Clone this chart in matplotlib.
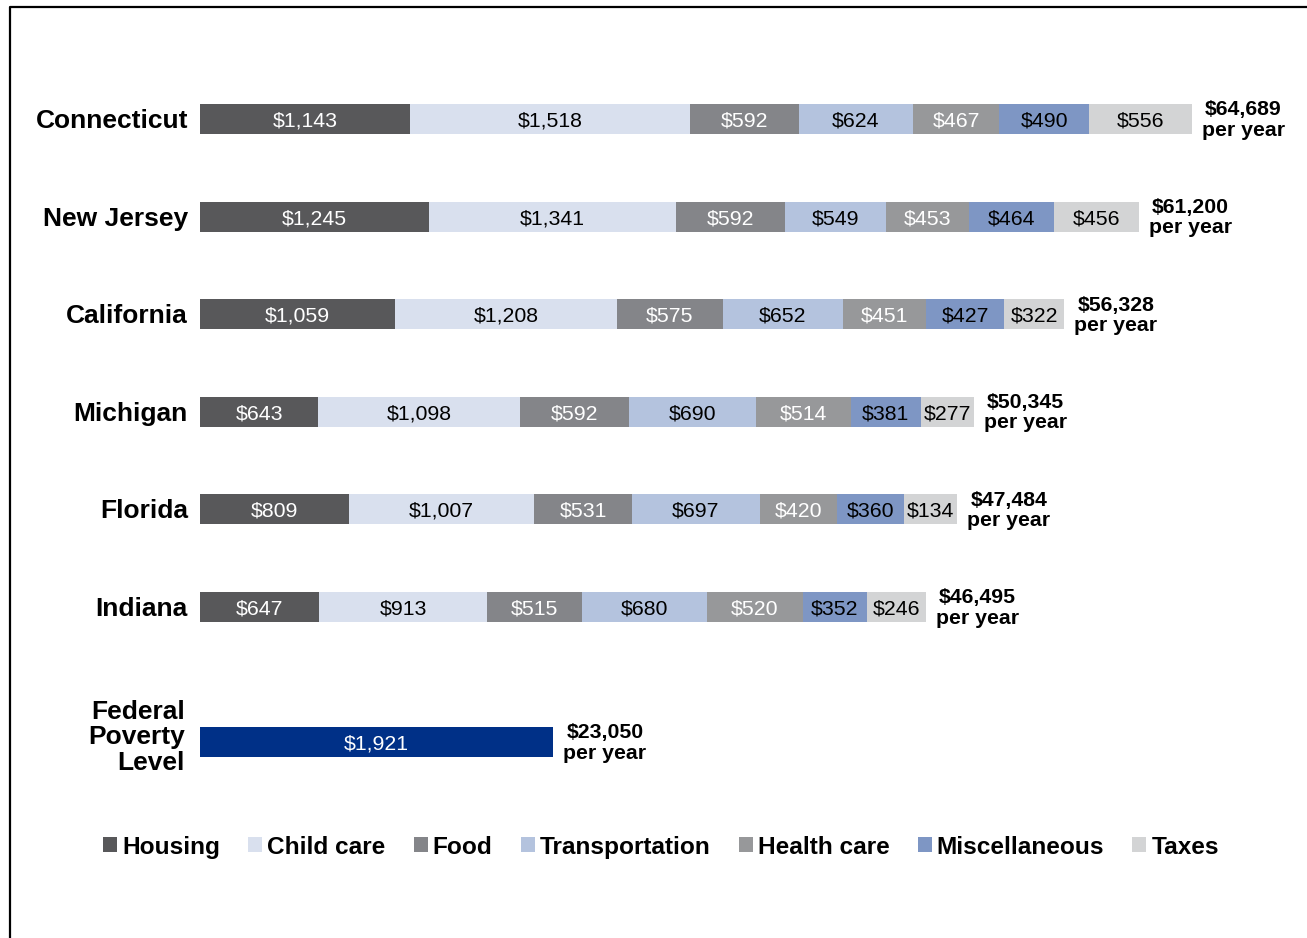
import matplotlib.pyplot as plt
import matplotlib.transforms as mtransforms
from matplotlib.patches import Patch
from matplotlib.lines import Line2D

plt.rcParams['font.family'] = ['Liberation Sans', 'DejaVu Sans']

states = ['Connecticut', 'New Jersey', 'California', 'Michigan', 'Florida', 'Indiana']
categories = ['Housing', 'Child care', 'Food', 'Transportation', 'Health care', 'Miscellaneous', 'Taxes']

# monthly costs per state, order follows categories
housing = [1143, 1245, 1059, 643, 809, 647]
child_care = [1518, 1341, 1208, 1098, 1007, 913]
food = [592, 592, 575, 592, 531, 515]
transportation = [624, 549, 652, 690, 697, 680]
health_care = [467, 453, 451, 514, 420, 520]
miscellaneous = [490, 464, 427, 381, 360, 352]
taxes = [556, 456, 322, 277, 134, 246]
# the taxes segments in the original are drawn wider than their labels for FL / IN
taxes_drawn = [556, 460, 326, 288, 292, 318]
yearly_totals = ['$64,689', '$61,200', '$56,328', '$50,345', '$47,484', '$46,495']

poverty_label = 'Federal\nPoverty\nLevel'
poverty_monthly = 1921
poverty_yearly = '$23,050'

colors = ['#58585a', '#d9e0ee', '#848589', '#b4c3de', '#97989a', '#7e96c4', '#d3d4d5']
text_colors = ['white', 'black', 'white', 'black', 'white', 'black', 'black']
poverty_color = '#003087'

bar_values = [housing, child_care, food, transportation, health_care, miscellaneous, taxes_drawn]
label_values = [housing, child_care, food, transportation, health_care, miscellaneous, taxes]

W, H = 1307, 938
fig = plt.figure(figsize=(W / 100, H / 100), dpi=100)
ax = fig.add_axes([200 / W, 0, (W - 200) / W, 1])

row_px = 97.6
ax.set_xlim(0, (W - 200) / 0.184)
ax.set_ylim((H - 119) / row_px, -119 / row_px)
ax.axis('off')

bar_h = 30 / row_px
y_pos = list(range(len(states)))
y_fed = (742 - 119) / row_px

# text offsets in pixels (y negative = down)
in_bar = mtransforms.offset_copy(ax.transData, fig=fig, x=0, y=-2, units='dots')
left_off = mtransforms.offset_copy(ax.transData, fig=fig, x=-12, y=-2, units='dots')
right_off = mtransforms.offset_copy(ax.transData, fig=fig, x=10, y=-1, units='dots')
fed_off = mtransforms.offset_copy(ax.transData, fig=fig, x=-15, y=-1, units='dots')

for i, st in enumerate(states):
    left = 0
    for k in range(len(categories)):
        v = bar_values[k][i]
        ax.barh(y_pos[i], v, left=left, height=bar_h, color=colors[k], edgecolor='none')
        ax.text(left + v / 2, y_pos[i], '${:,}'.format(label_values[k][i]), transform=in_bar,
                ha='center', va='center', color=text_colors[k], fontsize=15.3)
        left += v
    ax.text(0, y_pos[i], st, transform=left_off, ha='right', va='center',
            fontsize=19, fontweight='bold')
    ax.text(left, y_pos[i], yearly_totals[i] + '\nper year', transform=right_off,
            ha='left', va='center', multialignment='center', fontsize=15.3,
            fontweight='bold', linespacing=1.08)

ax.barh(y_fed, poverty_monthly, height=bar_h, color=poverty_color, edgecolor='none')
ax.text(poverty_monthly / 2, y_fed, '${:,}'.format(poverty_monthly), transform=in_bar,
        ha='center', va='center', color='white', fontsize=15.3)
ax.text(0, y_fed - 0.06, poverty_label, transform=fed_off, ha='right', va='center',
        multialignment='right', fontsize=19, fontweight='bold', linespacing=1.08)
ax.text(poverty_monthly, y_fed, poverty_yearly + '\nper year', transform=right_off,
        ha='left', va='center', multialignment='center', fontsize=15.3,
        fontweight='bold', linespacing=1.08)

handles = [Patch(facecolor=c, edgecolor='none') for c in colors]
leg = fig.legend(handles, categories, loc='center', bbox_to_anchor=(661 / W, 1 - 847 / H),
                 ncol=7, frameon=False, fontsize=17.6, handlelength=0.58, handleheight=0.58,
                 handletextpad=0.2, columnspacing=1.15)
for t in leg.get_texts():
    t.set_fontweight('bold')

# frame lines (left and top, the rest is cropped off)
fig.add_artist(Line2D([10 / W, 10 / W, 1], [0, 1 - 7 / H, 1 - 7 / H],
                      transform=fig.transFigure, color='black', linewidth=1.6))

fig.savefig('out.png', dpi=100)
